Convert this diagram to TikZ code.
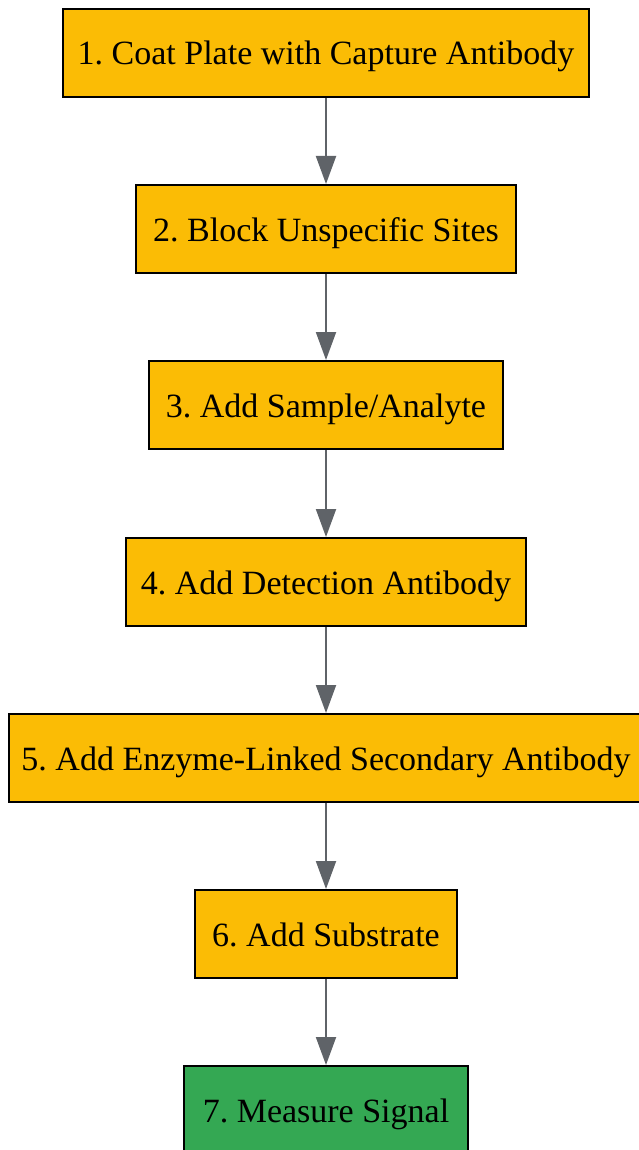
\documentclass[tikz,border=0pt]{standalone}
\usepackage{fontspec}
\setmainfont{Liberation Serif}
\usetikzlibrary{arrows.meta}
\definecolor{boxyellow}{HTML}{FBBC05}
\definecolor{boxgreen}{HTML}{34A853}
\definecolor{arrowgray}{HTML}{5F6368}
\tikzset{
  stepbox/.style={draw=black, line width=2pt, fill=boxyellow, minimum height=88pt, inner sep=0pt, text height=24pt, text depth=0pt, font=\fontsize{34}{40}\selectfont\frenchspacing, text=black},
  endbox/.style={stepbox, fill=boxgreen},
  flow/.style={draw=arrowgray, line width=2pt, -{Triangle[length=28pt, width=20pt]}}
}
\begin{document}
\begin{tikzpicture}[x=1pt, y=-1pt]
\useasboundingbox (0,0) rectangle (639,1150);
\node[stepbox, minimum width=526pt] (s1) at (326,53) {1. Coat Plate with Capture Antibody};
\node[stepbox, minimum width=380pt] (s2) at (326,229) {2. Block Unspecific Sites};
\node[stepbox, minimum width=354pt] (s3) at (326,405) {3. Add Sample/Analyte};
\node[stepbox, minimum width=400pt] (s4) at (326,582) {4. Add Detection Antibody};
\node[stepbox, minimum width=634pt] (s5) at (326,758) {5. Add Enzyme-Linked Secondary Antibody};
\node[stepbox, minimum width=262pt] (s6) at (326,934) {6. Add Substrate};
\node[endbox, minimum width=284pt] (s7) at (326,1110) {7. Measure Signal};
\draw[flow] (s1) -- (s2);
\draw[flow] (s2) -- (s3);
\draw[flow] (s3) -- (s4);
\draw[flow] (s4) -- (s5);
\draw[flow] (s5) -- (s6);
\draw[flow] (s6) -- (s7);
\end{tikzpicture}
\end{document}
